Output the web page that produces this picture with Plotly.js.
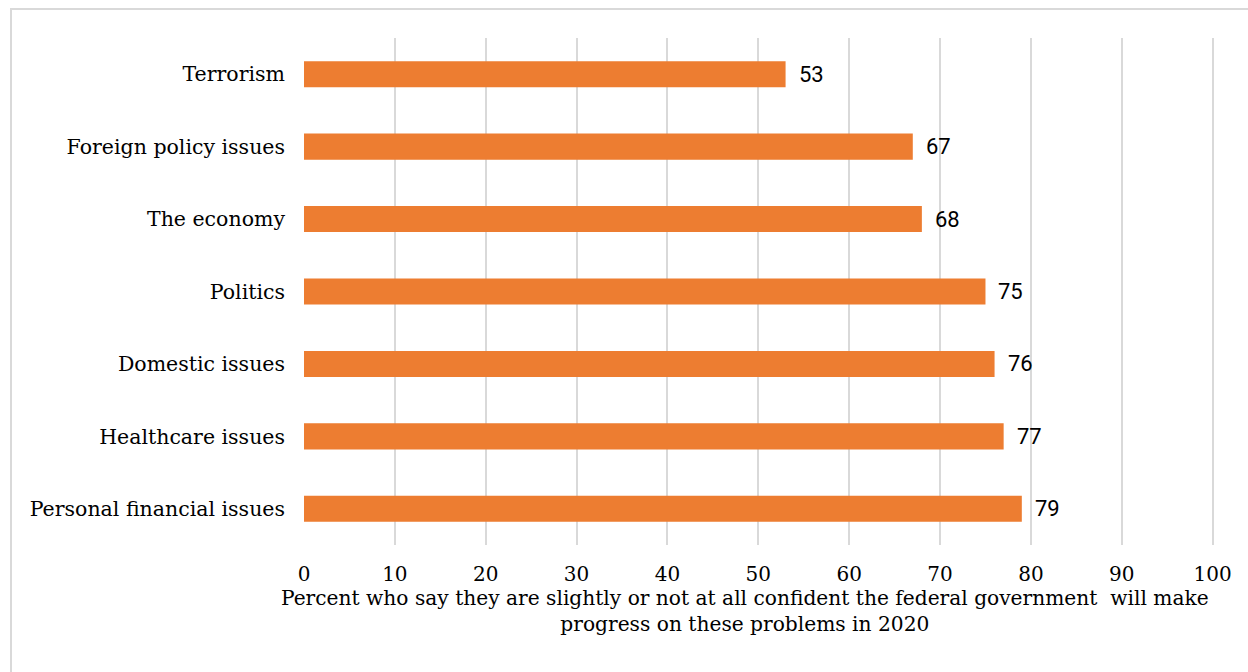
<!DOCTYPE html>
<html><head><meta charset="utf-8">
<script src="https://cdn.plot.ly/plotly-3.0.1.min.js"></script>
<style>
html,body{margin:0;padding:0;background:#fff;}
#wrap{position:relative;width:1248px;height:672px;overflow:hidden;}
#chart{position:absolute;left:0;top:0;width:1248px;height:672px;}
#frame{position:absolute;left:10px;top:8px;width:1260px;height:700px;border:2px solid #d9d9d9;pointer-events:none;}
</style></head>
<body><div id="wrap"><div id="chart"></div><div id="frame"></div></div>
<script>
const categories = ["Personal financial issues","Healthcare issues","Domestic issues","Politics","The economy","Foreign policy issues","Terrorism"];
const values = [79,77,76,75,68,67,53];
const tickValues = [0,10,20,30,40,50,60,70,80,90,100];
const xTitle = "Percent who say they are slightly or not at all confident the federal government  will make<br>progress on these problems in 2020";

const serif = "DejaVu Serif, serif";
const trace = {
  type: "bar", orientation: "h",
  x: values, y: categories,
  marker: {color: "#ED7D31"},
  hoverinfo: "none"
};
const annotations = values.map((v,i)=>({
  x: v, y: categories[i], xref: "x", yref: "y",
  text: String(v), showarrow: false, xanchor: "left", xshift: 11,
  font: {family: "Roboto, sans-serif", size: 22, color: "#000"}
}));
annotations.push({
  xref: "paper", yref: "paper", x: 0.4846, y: 0, xanchor: "center", yanchor: "top",
  yshift: -39, showarrow: false, text: xTitle,
  font: {family: serif, size: 20.2, color: "#000"}
});
const layout = {
  width: 1248, height: 672,
  margin: {l: 304, r: 34, t: 38, b: 127},
  paper_bgcolor: "#fff", plot_bgcolor: "#fff",
  bargap: 0.64,
  showlegend: false,
  xaxis: {
    range: [0, 100.15], tickvals: tickValues, ticks: "",
    showgrid: true, gridcolor: "#d9d9d9", gridwidth: 2,
    zeroline: false, showline: false,
    tickfont: {family: serif, size: 20, color: "#000"},
    ticklabelstandoff: 15
  },
  yaxis: {
    ticks: "", showgrid: false, zeroline: false, showline: false,
    tickfont: {family: serif, size: 20.5, color: "#000"},
    ticklabelstandoff: 18,
    categoryorder: "array", categoryarray: categories
  },
  annotations: annotations
};
Plotly.newPlot("chart", [trace], layout, {displayModeBar: false, staticPlot: true});
</script></body></html>
